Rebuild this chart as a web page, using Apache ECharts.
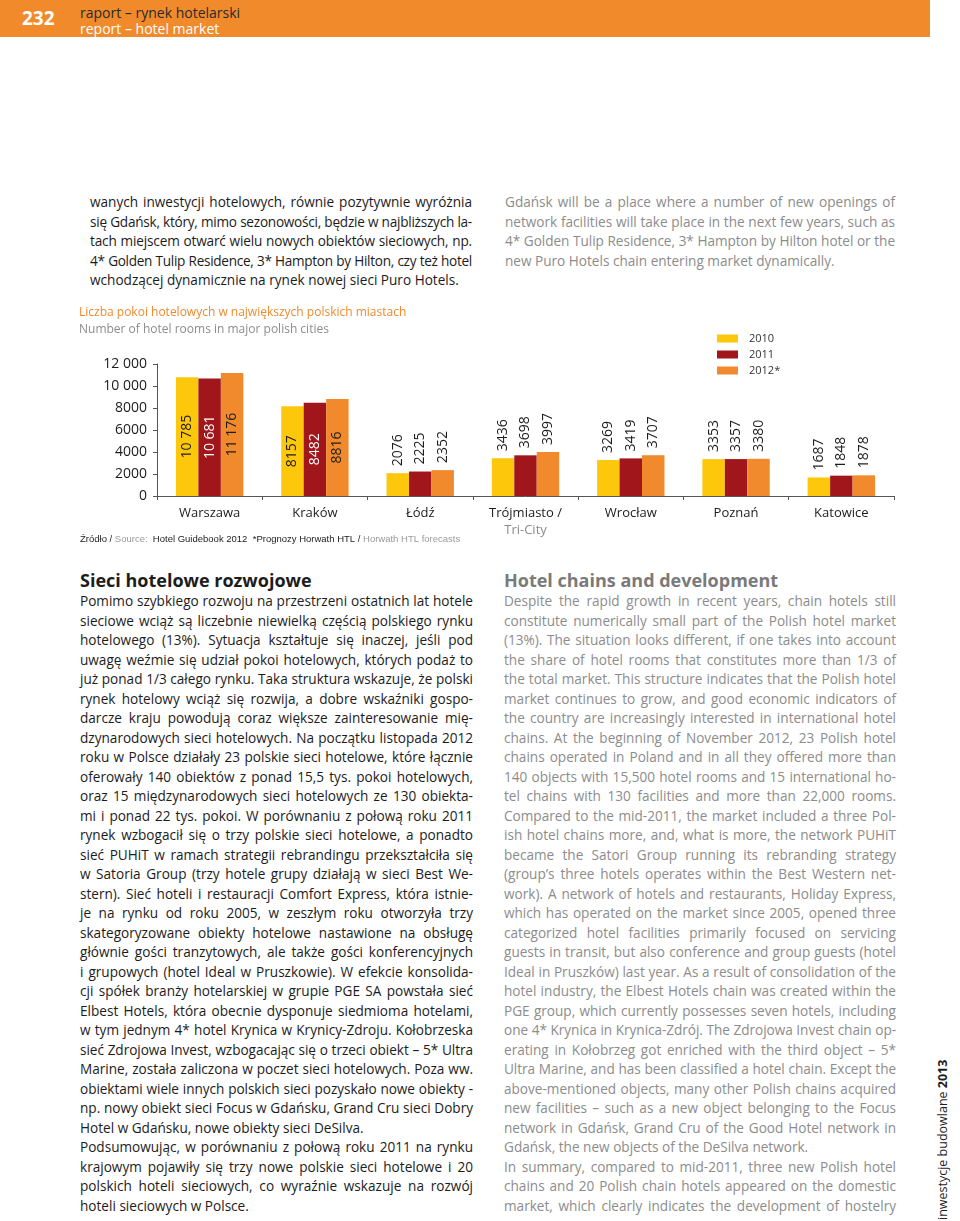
<!DOCTYPE html>
<html><head><meta charset="utf-8">
<script src="https://cdn.jsdelivr.net/npm/echarts@6/dist/echarts.min.js"></script>
<style>
html,body{margin:0;padding:0;background:#fff;width:960px;height:1221px;overflow:hidden;font-family:"Open Sans","Noto Sans",sans-serif;}
#hdr{position:absolute;left:0;top:0;width:930px;height:37px;background:#F18A2B;}
#pg{position:absolute;left:22px;top:5px;font-size:19px;font-weight:bold;color:#fff;line-height:26px;}
#h1{position:absolute;left:80px;top:4px;font-size:14px;color:#2a2a2a;line-height:17px;}
#h2{position:absolute;left:80px;top:20px;font-size:14px;color:#fff;line-height:17px;}
.blk{position:absolute;font-size:13.6px;line-height:19.5px;}
.ln{text-align:justify;text-align-last:justify;white-space:nowrap;}
.ln.last{text-align:left;text-align-last:left;}
.ln.meas{text-align:left;text-align-last:left;}
.dark{color:#1c1c1c;}
.gray{color:#8c8c8c;}
.head{position:absolute;font-size:18px;font-weight:bold;line-height:24px;}
#side{position:absolute;left:863px;top:1130px;width:160px;height:20px;line-height:20px;font-size:12.5px;color:#1c1c1c;transform:rotate(-90deg);transform-origin:80px 10px;white-space:nowrap;}
#chart{position:absolute;left:0;top:290px;width:960px;height:270px;}
</style></head>
<body>
<div id="hdr"><div id="pg">232</div><div id="h1">raport – rynek hotelarski</div><div id="h2">report –  hotel market</div></div>

<div class="blk dark" style="left:90px;top:192px;width:382px;">
<div class="ln">wanych inwestycji hotelowych, równie pozytywnie wyróżnia</div>
<div class="ln">się Gdańsk, który, mimo sezonowości, będzie w najbliższych la-</div>
<div class="ln">tach miejscem otwarć wielu nowych obiektów sieciowych, np.</div>
<div class="ln">4* Golden Tulip Residence, 3* Hampton by Hilton, czy też hotel</div>
<div class="ln last">wchodzącej dynamicznie na rynek nowej sieci Puro Hotels.</div>
</div>

<div class="blk gray" style="left:505px;top:192px;width:390px;">
<div class="ln">Gdańsk will be a place where a number of new openings of</div>
<div class="ln">network facilities will take place in the next few years, such as</div>
<div class="ln">4* Golden Tulip Residence, 3* Hampton by Hilton hotel or the</div>
<div class="ln last">new Puro Hotels chain entering market dynamically.</div>
</div>

<div class="head dark" style="left:80px;top:568px;">Sieci hotelowe rozwojowe</div>
<div class="head gray" style="left:504px;top:568px;color:#7a7a7a;">Hotel chains and development</div>

<div class="blk dark" style="left:80px;top:591px;width:393px;">
<div class="ln">Pomimo szybkiego rozwoju na przestrzeni ostatnich lat hotele</div>
<div class="ln">sieciowe wciąż są liczebnie niewielką częścią polskiego rynku</div>
<div class="ln">hotelowego (13%). Sytuacja kształtuje się inaczej, jeśli pod</div>
<div class="ln">uwagę weźmie się udział pokoi hotelowych, których podaż to</div>
<div class="ln">już ponad 1/3 całego rynku. Taka struktura wskazuje, że polski</div>
<div class="ln">rynek hotelowy wciąż się rozwija, a dobre wskaźniki gospo-</div>
<div class="ln">darcze kraju powodują coraz większe zainteresowanie mię-</div>
<div class="ln">dzynarodowych sieci hotelowych. Na początku listopada 2012</div>
<div class="ln">roku w Polsce działały 23 polskie sieci hotelowe, które łącznie</div>
<div class="ln">oferowały 140 obiektów z ponad 15,5 tys. pokoi hotelowych,</div>
<div class="ln">oraz 15 międzynarodowych sieci hotelowych ze 130 obiekta-</div>
<div class="ln">mi i ponad 22 tys. pokoi. W porównaniu z połową roku 2011</div>
<div class="ln">rynek wzbogacił się o trzy polskie sieci hotelowe, a ponadto</div>
<div class="ln">sieć PUHiT w ramach strategii rebrandingu przekształciła się</div>
<div class="ln">w Satoria Group (trzy hotele grupy działają w sieci Best We-</div>
<div class="ln">stern). Sieć hoteli i restauracji Comfort Express, która istnie-</div>
<div class="ln">je na rynku od roku 2005, w zeszłym roku otworzyła trzy</div>
<div class="ln">skategoryzowane obiekty hotelowe nastawione na obsługę</div>
<div class="ln">głównie gości tranzytowych, ale także gości konferencyjnych</div>
<div class="ln">i grupowych (hotel Ideal w Pruszkowie). W efekcie konsolida-</div>
<div class="ln">cji spółek branży hotelarskiej w grupie PGE SA powstała sieć</div>
<div class="ln">Elbest Hotels, która obecnie dysponuje siedmioma hotelami,</div>
<div class="ln">w tym jednym 4* hotel Krynica w Krynicy-Zdroju. Kołobrzeska</div>
<div class="ln">sieć Zdrojowa Invest, wzbogacając się o trzeci obiekt – 5* Ultra</div>
<div class="ln">Marine, została zaliczona w poczet sieci hotelowych. Poza ww.</div>
<div class="ln">obiektami wiele innych polskich sieci pozyskało nowe obiekty -</div>
<div class="ln">np. nowy obiekt sieci Focus w Gdańsku, Grand Cru sieci Dobry</div>
<div class="ln last">Hotel w Gdańsku, nowe obiekty sieci DeSilva.</div>
<div class="ln">Podsumowując, w porównaniu z połową roku 2011 na  rynku</div>
<div class="ln">krajowym pojawiły się trzy nowe polskie sieci hotelowe i 20</div>
<div class="ln">polskich hoteli sieciowych, co wyraźnie wskazuje na rozwój</div>
<div class="ln last">hoteli sieciowych w Polsce.</div>
</div>

<div class="blk gray" style="left:504px;top:591px;width:392px;">
<div class="ln">Despite the rapid growth in recent years, chain hotels still</div>
<div class="ln">constitute numerically small part of the Polish hotel market</div>
<div class="ln">(13%). The situation looks different, if one takes into account</div>
<div class="ln">the share of hotel rooms that constitutes more than 1/3 of</div>
<div class="ln">the total market. This structure indicates that the Polish hotel</div>
<div class="ln">market continues to grow, and good economic indicators of</div>
<div class="ln">the country are increasingly interested in international hotel</div>
<div class="ln">chains. At the beginning of November 2012, 23 Polish hotel</div>
<div class="ln">chains operated in Poland and in all they offered more than</div>
<div class="ln">140 objects with 15,500 hotel rooms and 15 international ho-</div>
<div class="ln">tel chains with 130 facilities and more than 22,000 rooms.</div>
<div class="ln">Compared to the mid-2011, the market included a three Pol-</div>
<div class="ln">ish hotel chains more, and, what is more, the network PUHiT</div>
<div class="ln">became the Satori Group running its rebranding strategy</div>
<div class="ln">(group’s three hotels operates within the Best Western net-</div>
<div class="ln">work). A network of hotels and restaurants, Holiday Express,</div>
<div class="ln">which has operated on the market since 2005, opened three</div>
<div class="ln">categorized hotel facilities primarily focused on servicing</div>
<div class="ln">guests in transit, but also conference and group guests (hotel</div>
<div class="ln">Ideal in Pruszków) last year. As a result of consolidation of the</div>
<div class="ln">hotel industry, the Elbest Hotels chain was created within the</div>
<div class="ln">PGE group, which currently possesses seven hotels, including</div>
<div class="ln">one 4* Krynica in Krynica-Zdrój. The Zdrojowa Invest chain op-</div>
<div class="ln">erating in Kołobrzeg got enriched with the third object – 5*</div>
<div class="ln">Ultra Marine, and has been classified a hotel chain. Except the</div>
<div class="ln">above-mentioned objects, many other Polish chains acquired</div>
<div class="ln">new facilities – such as a new object belonging to the Focus</div>
<div class="ln">network in Gdańsk, Grand Cru of the Good Hotel network in</div>
<div class="ln last">Gdańsk, the new objects of the DeSilva network.</div>
<div class="ln">In summary, compared to mid-2011, three new Polish hotel</div>
<div class="ln">chains and 20 Polish chain hotels appeared on the domestic</div>
<div class="ln">market, which clearly indicates the development of hostelry</div>
</div>

<div id="side">inwestycje budowlane <b>2013</b></div>

<div id="chart"></div>

<script>
// ---- data ----
var cities = ['Warszawa', 'Kraków', 'Łódź', 'Trójmiasto /', 'Wrocław', 'Poznań', 'Katowice'];
var citySub = ['', '', '', 'Tri-City', '', '', ''];
var seriesNames = ['2010', '2011', '2012*'];
var rooms2010 = [10785, 8157, 2076, 3436, 3269, 3353, 1687];
var rooms2011 = [10681, 8482, 2225, 3698, 3419, 3357, 1848];
var rooms2012 = [11176, 8816, 2352, 3997, 3707, 3380, 1878];
var yTicks = [0, 2000, 4000, 6000, 8000, 10000, 12000];
var insideCats = ['Warszawa', 'Kraków'];

// fit justified lines
document.querySelectorAll('.ln').forEach(function (d) {
  d.classList.add('meas');
  var W = d.clientWidth;
  var r = document.createRange(); r.selectNodeContents(d);
  var w = r.getBoundingClientRect().width, ls = 0;
  while (w > W - 0.5 && ls > -2) { ls -= 0.05; d.style.letterSpacing = ls + 'px'; w = r.getBoundingClientRect().width; }
  d.classList.remove('meas');
});

function fmt(v) { var s = String(v); return v >= 10000 ? s.slice(0, s.length - 3) + ' ' + s.slice(-3) : s; }

var colors = ['#FDC70B', '#A1161B', '#F08A2C'];
var lblColorsInside = ['#1c1c1c', '#ffffff', '#1c1c1c'];

function mk(vals, i) {
  return {
    name: seriesNames[i], type: 'bar', barGap: '0%', barCategoryGap: '36%',
    itemStyle: { color: colors[i] },
    data: vals.map(function (v, k) {
      var inside = insideCats.indexOf(cities[k]) >= 0;
      return {
        value: v,
        label: inside ? {
          show: true, position: 'inside', rotate: 90, align: 'center', verticalAlign: 'middle',
          color: lblColorsInside[i], fontSize: 14, formatter: function (p) { return fmt(p.value); }
        } : {
          show: true, position: 'top', rotate: 90, align: 'left', verticalAlign: 'middle', distance: 7,
          color: '#1c1c1c', fontSize: 14, formatter: function (p) { return fmt(p.value); }
        }
      };
    })
  };
}

var chart = echarts.init(document.getElementById('chart'), null, { renderer: 'canvas' });
chart.setOption({
  animation: false,
  textStyle: { fontFamily: '"Open Sans","Noto Sans",sans-serif' },
  title: {
    left: 74, top: 12, text: 'Liczba pokoi hotelowych w największych polskich miastach',
    subtext: 'Number of hotel rooms in major polish cities',
    textStyle: { color: '#F08A2C', fontSize: 12, fontWeight: 'normal' },
    subtextStyle: { color: '#8c8c8c', fontSize: 12 }, itemGap: 5
  },
  legend: {
    orient: 'vertical', left: 712, top: 38, itemWidth: 21, itemHeight: 8, itemGap: 5,
    icon: 'rect', textStyle: { color: '#333', fontSize: 11, padding: [0, 0, 0, 6] },
    data: seriesNames
  },
  grid: { left: 157, right: 66, top: 74, bottom: 64 },
  xAxis: {
    type: 'category', data: cities,
    axisLine: { lineStyle: { color: '#555', width: 1 } },
    axisTick: { show: true, length: 4, lineStyle: { color: '#555' } },
    axisLabel: {
      interval: 0, margin: 9, color: '#1c1c1c', fontSize: 13, lineHeight: 17,
      formatter: function (v, i) { return citySub[i] ? '{a|' + v + '}\n{b|' + citySub[i] + '}' : v; },
      rich: { a: { color: '#1c1c1c', fontSize: 13 }, b: { color: '#8c8c8c', fontSize: 13 } }
    }
  },
  yAxis: {
    type: 'value', min: yTicks[0], max: yTicks[yTicks.length - 1], interval: yTicks[1] - yTicks[0],
    splitLine: { show: false },
    axisLine: { show: true, lineStyle: { color: '#555' } },
    axisTick: { show: true, length: 4, lineStyle: { color: '#555' } },
    axisLabel: { color: '#1c1c1c', fontSize: 14, margin: 10, formatter: function (v) { return fmt(v); } }
  },
  graphic: [{
    type: 'text', left: 80, top: 244,
    style: {
      text: '{k|Źródło / }{g|Source: }{k| Hotel Guidebook 2012  *Prognozy Horwath HTL / }{g|Horwath HTL forecasts}',
      rich: { k: { fill: '#1c1c1c', fontSize: 9.5 }, g: { fill: '#9a9a9a', fontSize: 9.5 } }
    }
  }],
  series: [mk(rooms2010, 0), mk(rooms2011, 1), mk(rooms2012, 2)]
});
</script>
</body></html>
